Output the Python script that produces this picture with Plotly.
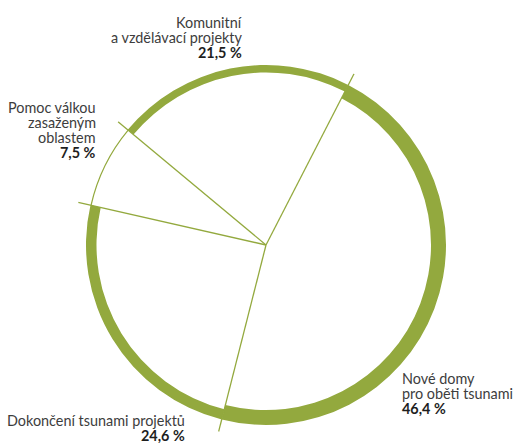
import plotly.graph_objects as go

# ---- data ----
categories = [
    "Nové domy<br>pro oběti tsunami",
    "Dokončení tsunami projektů",
    "Pomoc válkou<br>zasaženým<br>oblastem",
    "Komunitní<br>a vzdělávací projekty",
]
values = [46.4, 24.6, 7.5, 21.5]

# ---- styles ----
GREEN = "#93A93E"
TEXT = "#3d3d3d"
PCT = "#1e1e1e"
FONT = "Lato"
FSIZE = 14.4
START = 27.2          # angle of first boundary, clockwise from 12 o'clock
ring_px = [15, 10.5, 1.2, 7.5]   # ring thickness per slice (px)
R_PX = 180            # outer radius in px
EXT = 1.07            # how far boundary lines reach beyond the ring
CX, CY = 266, 245     # centre in px
W, H = 518, 443
LINE_H = 15
# (x px, first-line baseline px, alignment)
label_pos = [(402, 383, "left"), (185, 425, "right"), (96, 112, "right"), (242, 27, "right")]

total = sum(values)
spans = [v / total * 360 for v in values]
starts = []
a = START
for s in spans:
    starts.append(a)
    a += s
mids = [st + s / 2 for st, s in zip(starts, spans)]
thick = [t / R_PX for t in ring_px]

fig = go.Figure()
fig.add_trace(go.Barpolar(
    theta=mids, width=spans, r=thick, base=[1 - t for t in thick],
    marker=dict(color=GREEN, line=dict(width=0)), hoverinfo="skip", showlegend=False,
))
lr, lt = [], []
for st in starts:
    lr += [0, EXT, None]
    lt += [st, st, None]
fig.add_trace(go.Scatterpolar(
    r=lr, theta=lt, mode="lines", line=dict(color=GREEN, width=1.3),
    hoverinfo="skip", showlegend=False,
))

rp = EXT * R_PX
fig.update_layout(
    width=W, height=H, margin=dict(l=0, r=0, t=0, b=0),
    paper_bgcolor="white", plot_bgcolor="white", showlegend=False,
    polar=dict(
        domain=dict(x=[(CX - rp) / W, (CX + rp) / W], y=[1 - (CY + rp) / H, 1 - (CY - rp) / H]),
        bgcolor="rgba(0,0,0,0)", bargap=0,
        radialaxis=dict(visible=False, range=[0, EXT]),
        angularaxis=dict(visible=False, rotation=90, direction="clockwise"),
    ),
)

anns = []
for cat, v, (x, y0, al) in zip(categories, values, label_pos):
    lines = cat.split("<br>") + ["<b>" + f"{v:.1f}".replace(".", ",") + " %</b>"]
    for i, ln in enumerate(lines):
        base = y0 + i * LINE_H
        yc = base - 0.32 * FSIZE
        bold = ln.startswith("<b>")
        anns.append(dict(
            text=ln, xref="paper", yref="paper", x=x / W, y=1 - yc / H,
            xanchor=al, yanchor="middle", showarrow=False, borderpad=0, borderwidth=0,
            font=dict(family=FONT, size=FSIZE, color=PCT if bold else TEXT),
        ))
fig.update_layout(annotations=anns)

fig.write_html("out.html", config={"displayModeBar": False},
               post_script="document.body.style.margin='0';")
